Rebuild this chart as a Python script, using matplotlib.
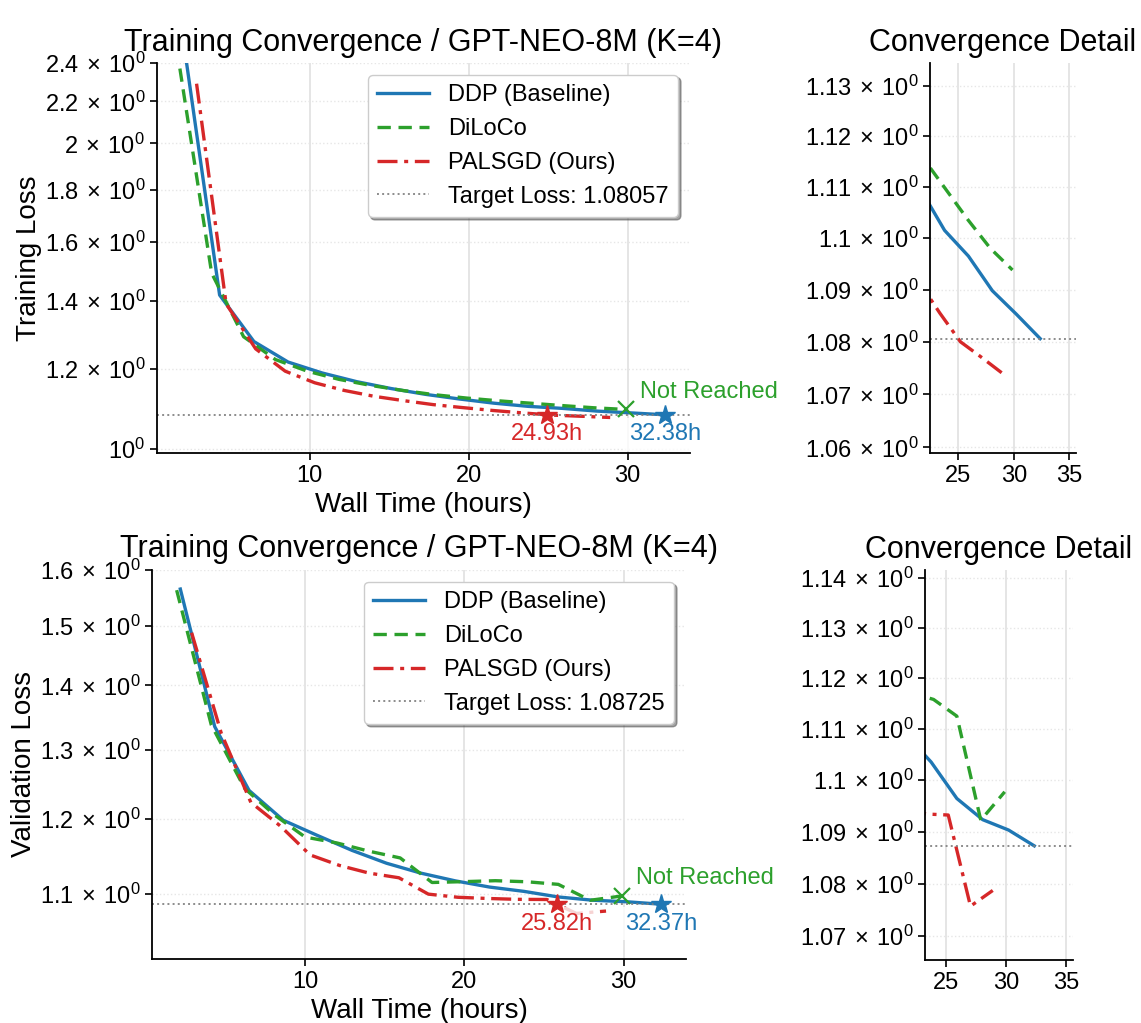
import math
import matplotlib
matplotlib.use("Agg")
import matplotlib.pyplot as plt
from matplotlib import ticker

plt.rcParams['font.family'] = ['Liberation Sans', 'DejaVu Sans']

# training loss curves (hours, loss)
ddp_train_t = [2.16, 4.32, 6.48, 8.63, 10.79, 12.95, 15.11, 17.27, 19.43, 21.59, 23.75, 25.90, 28.06, 30.22, 32.38]
ddp_train = [2.45, 1.418, 1.276, 1.218, 1.188, 1.165, 1.147, 1.132, 1.120, 1.1095, 1.1015, 1.0965, 1.0898, 1.0853, 1.0806]
diloco_train_t = [1.82, 3.82, 5.83, 7.83, 9.84, 11.84, 13.85, 15.85, 17.86, 19.86, 21.87, 23.87, 25.88, 27.88, 29.88]
diloco_train = [2.37, 1.49, 1.29, 1.225, 1.193, 1.171, 1.155, 1.142, 1.131, 1.1225, 1.1155, 1.1095, 1.1035, 1.098, 1.0938]
palsgd_train_t = [2.87, 4.73, 6.59, 8.45, 10.31, 12.17, 14.03, 15.89, 17.74, 19.60, 21.46, 23.32, 25.18, 27.04, 28.90]
palsgd_train = [2.29, 1.39, 1.255, 1.193, 1.162, 1.142, 1.127, 1.116, 1.106, 1.0985, 1.0915, 1.0855, 1.0800, 1.0771, 1.0741]

# validation loss curves
ddp_val_t = [2.16, 4.32, 6.48, 8.63, 10.79, 12.95, 15.11, 17.27, 19.43, 21.59, 23.75, 25.90, 28.06, 30.22, 32.37]
ddp_val = [1.565, 1.335, 1.240, 1.198, 1.177, 1.157, 1.140, 1.127, 1.117, 1.109, 1.1035, 1.0964, 1.0923, 1.0903, 1.08725]
diloco_val_t = [1.93, 4.1, 6.2, 8.1, 10.0, 12.0, 14.0, 15.97, 17.97, 19.96, 21.95, 23.95, 25.9, 27.9, 29.9]
diloco_val = [1.563, 1.338, 1.243, 1.205, 1.175, 1.167, 1.156, 1.147, 1.1149, 1.116, 1.1172, 1.1158, 1.1125, 1.0922, 1.0977]
palsgd_val_t = [2.87, 4.73, 6.59, 8.45, 10.31, 12.17, 14.03, 15.89, 17.74, 19.60, 21.46, 23.32, 25.18, 27.04, 28.90]
palsgd_val = [1.488, 1.325, 1.223, 1.190, 1.151, 1.137, 1.127, 1.121, 1.100, 1.096, 1.0945, 1.0934, 1.0932, 1.0757, 1.0787]

target_train = 1.08057
target_val = 1.08725
reach_train = {"PALSGD": 24.93, "DDP": 32.38}
reach_val = {"PALSGD": 25.82, "DDP": 32.37}

train_yticks = [1.0, 1.2, 1.4, 1.6, 1.8, 2.0, 2.2, 2.4]
val_yticks = [1.1, 1.2, 1.3, 1.4, 1.5, 1.6]
train_detail_yticks = [1.06, 1.07, 1.08, 1.09, 1.10, 1.11, 1.12, 1.13]
val_detail_yticks = [1.07, 1.08, 1.09, 1.10, 1.11, 1.12, 1.13, 1.14]

C_DDP, C_DIL, C_PAL = '#1f77b4', '#2ca02c', '#d62728'
FS = 17

fig = plt.figure(figsize=(11.41, 10.23), dpi=100)


def sci_label(v, pos):
    e = math.floor(math.log10(v) + 1e-9)
    c = v / 10 ** e
    if abs(c - 1) < 1e-9:
        return r'$\mathdefault{10^{%d}}$' % e
    return r'$\mathdefault{%g\,\times\,10^{%d}}$' % (round(c, 6), e)


def style(ax, yticks, xticks):
    ax.set_yscale('log')
    ax.yaxis.set_major_locator(ticker.FixedLocator(yticks))
    ax.yaxis.set_major_formatter(ticker.FuncFormatter(sci_label))
    ax.yaxis.set_minor_locator(ticker.NullLocator())
    ax.set_xticks(xticks)
    ax.spines['top'].set_visible(False)
    ax.spines['right'].set_visible(False)
    for s in ('left', 'bottom'):
        ax.spines[s].set_linewidth(1.3)
    ax.tick_params(labelsize=FS, length=5, width=1.2)
    ax.grid(axis='x', color='#e3e3e3', lw=1.3)
    ax.grid(axis='y', color='#e6e6e6', lw=1.0, ls=':')
    ax.set_axisbelow(True)


def curves(ax, d, di, p, target):
    ax.plot(d[0], d[1], color=C_DDP, lw=2.4, label='DDP (Baseline)')
    ax.plot(di[0], di[1], color=C_DIL, lw=2.4, ls=(0, (4, 2.3)), label='DiLoCo')
    ax.plot(p[0], p[1], color=C_PAL, lw=2.4, ls=(0, (6, 2, 1.2, 2)), label='PALSGD (Ours)')
    ax.axhline(target, color='gray', lw=1.4, ls=':', alpha=0.9,
               label=f'Target Loss: {target}')


def main_panel(rect, d, di, p, target, reach, yticks, ylim, ylabel):
    ax = fig.add_axes(rect)
    curves(ax, d, di, p, target)
    style(ax, yticks, [10, 20, 30])
    ax.set_xlim(0.38, 33.92)
    ax.set_ylim(*ylim)
    for key, col in (("PALSGD", C_PAL), ("DDP", C_DDP)):
        t = reach[key]
        ax.plot(t, target, marker='*', ms=15, color=col, zorder=5)
        ax.annotate(f'{t:.2f}h', (t, target), xytext=(0, -6), textcoords='offset points',
                    ha='center', va='top', color=col, fontsize=FS,
                    bbox=dict(facecolor='white', edgecolor='none', alpha=0.8), zorder=4)
    ax.plot(di[0][-1], di[1][-1], marker='x', ms=11, mew=1.6, color=C_DIL, zorder=5)
    ax.annotate('Not Reached', (di[0][-1], di[1][-1]), xytext=(10, 5),
                textcoords='offset points', ha='left', va='bottom', color=C_DIL,
                fontsize=FS, annotation_clip=False)
    ax.set_title('Training Convergence / GPT-NEO-8M (K=4)', fontsize=22, pad=9)
    ax.set_xlabel('Wall Time (hours)', fontsize=20, labelpad=4)
    ax.set_ylabel(ylabel, fontsize=20, labelpad=2)
    ax.legend(loc='upper right', fontsize=FS, shadow=True, framealpha=1,
              handlelength=2.2)
    return ax


def detail_panel(rect, d, di, p, target, reach, yticks):
    ax = fig.add_axes(rect)
    curves(ax, d, di, p, target)
    style(ax, yticks, [25, 30, 35])
    ax.set_xlim(min(reach.values()) * 0.9, max(reach.values()) * 1.1)
    ax.set_ylim(target * 0.98, target * 1.05)
    ax.set_title('Convergence Detail', fontsize=22, pad=9)
    return ax


main_panel([0.1376, 0.5572, 0.4671, 0.3812],
           (ddp_train_t, ddp_train), (diloco_train_t, diloco_train),
           (palsgd_train_t, palsgd_train), target_train, reach_train,
           train_yticks, (0.991, 2.4), 'Training Loss')
detail_panel([0.8151, 0.5572, 0.128, 0.3812],
             (ddp_train_t, ddp_train), (diloco_train_t, diloco_train),
             (palsgd_train_t, palsgd_train), target_train, reach_train,
             train_detail_yticks)
main_panel([0.1332, 0.0626, 0.468, 0.3803],
           (ddp_val_t, ddp_val), (diloco_val_t, diloco_val),
           (palsgd_val_t, palsgd_val), target_val, reach_val,
           val_yticks, (1.0206, 1.6), 'Validation Loss')
detail_panel([0.8107, 0.0616, 0.1297, 0.381],
             (ddp_val_t, ddp_val), (diloco_val_t, diloco_val),
             (palsgd_val_t, palsgd_val), target_val, reach_val,
             val_detail_yticks)

fig.savefig('out.png', dpi=100)
